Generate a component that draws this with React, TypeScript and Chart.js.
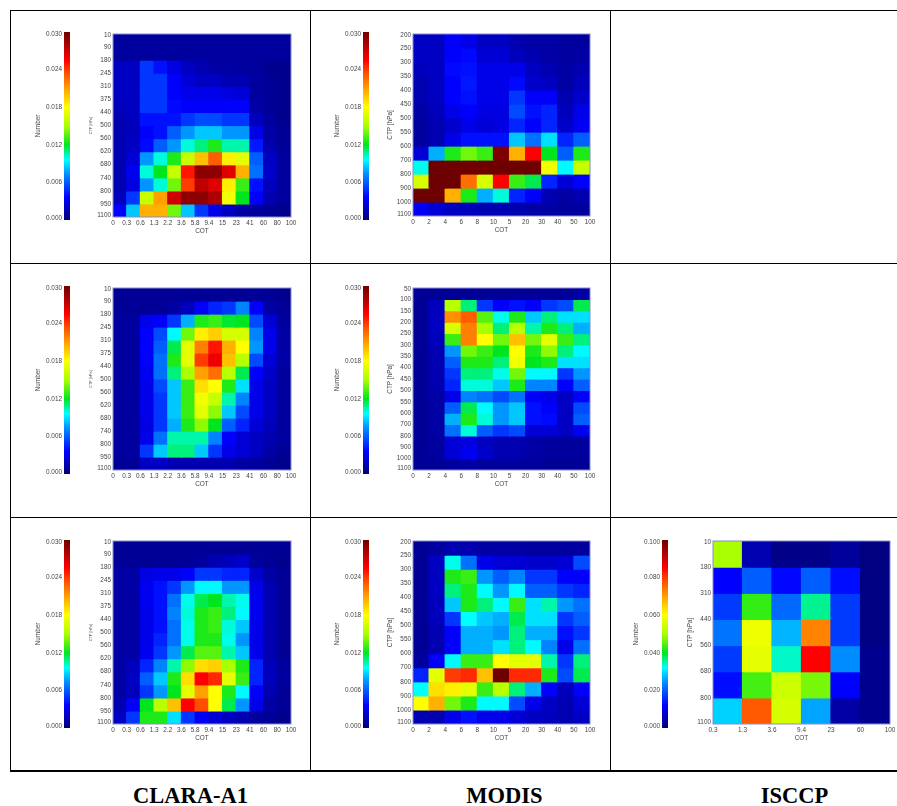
import React, { useEffect, useRef } from "react";
import { Chart, registerables } from "chart.js";

Chart.register(...registerables);

// ---------- tick labels ----------
const claraCot = ["0", "0.3", "0.6", "1.3", "2.2", "3.6", "5.8", "9.4", "15", "23", "41", "60", "80", "100"];
const claraCtp = ["10", "90", "180", "245", "310", "375", "440", "500", "560", "620", "680", "740", "800", "950", "1100"];
const modisCot = ["0", "2", "4", "6", "8", "10", "5", "20", "30", "40", "50", "100"];
const modisCtpShort = ["200", "250", "300", "350", "400", "450", "500", "550", "600", "700", "800", "900", "1000", "1100"];
const modisCtpLong = ["50", "100", "150", "200", "250", "300", "350", "400", "450", "500", "550", "600", "700", "800", "900", "1000", "1100"];
const isccpCot = ["0.3", "1.3", "3.6", "9.4", "23", "60", "100"];
const isccpCtp = ["10", "180", "310", "440", "560", "680", "800", "1100"];
const barTicksLow = [0, 0.006, 0.012, 0.018, 0.024, 0.03];
const barTicksHigh = [0, 0.02, 0.04, 0.06, 0.08, 0.1];
const columnNames = ["CLARA-A1", "MODIS", "ISCCP"];

// ---------- cell values (in units of 0.001) ----------
const claraTop = [
  [1, 1, 1, 1, 1, 1, 1, 1, 1, 1, 1, 1, 1],
  [1, 1, 1, 1, 1, 1, 1, 1, 1, 1, 1, 1, 1],
  [2, 2, 5, 4, 2.8, 2, 1.5, 1.2, 1.2, 1, 1, 0.6, 0.6],
  [2, 2, 5, 5, 3.5, 2.5, 2, 2, 1.5, 1.5, 1, 0.8, 0.6],
  [2, 2, 5, 5, 3.6, 3, 3, 3, 2.8, 2.5, 1, 0.8, 0.6],
  [1.8, 2, 5, 5, 3.8, 3.5, 3.5, 3.5, 3.5, 3.5, 1.2, 0.8, 0.6],
  [1.5, 1.8, 4, 4, 4, 5, 5.5, 5.5, 5, 5, 1.8, 1, 0.6],
  [1.5, 1.8, 3.5, 4, 6, 7.5, 8.5, 8.5, 7.5, 7.5, 3, 1.2, 0.8],
  [1.5, 2, 3.8, 6, 7.5, 10, 11, 12.5, 10.5, 10.5, 4.2, 1.5, 0.8],
  [1.5, 2.5, 7.5, 10, 12.5, 16, 20, 23, 18.5, 17, 6, 2, 1],
  [1.5, 3.2, 10, 12, 16, 25, 29, 29, 26.5, 20.5, 6.5, 2.2, 1],
  [1.5, 2.8, 7.5, 10, 14, 24, 27.5, 26.5, 18.5, 13, 4, 1.8, 1],
  [1.8, 5, 16, 21, 27, 29, 29, 28, 17.5, 12, 3.5, 1.5, 1],
  [3.6, 8.5, 20.5, 20.5, 14, 8.5, 5, 3, 2, 1.2, 1, 0.8, 0.6],
];
const modisTop = [
  [2, 2, 3.5, 3, 2, 2, 1.5, 1.2, 1.2, 1, 1],
  [2, 2, 3.6, 3.8, 2.5, 2.5, 1.8, 1.5, 1.2, 1, 1.2],
  [1.8, 2, 3.8, 4, 3, 3, 3, 2, 1.5, 1.2, 1.5],
  [1.5, 2, 3.6, 4.2, 3, 3, 3.8, 2.2, 2, 1.2, 1.8],
  [1.5, 2, 3.6, 4, 3, 3, 5, 3.5, 3.5, 1.5, 2.2],
  [1.2, 1.8, 3, 3.5, 2.8, 2.8, 5.5, 4, 4.5, 1.8, 3],
  [1, 1.5, 2.2, 3, 2.5, 2.8, 4.5, 3.5, 4.5, 2.2, 3.3],
  [1, 1.5, 3, 4, 4, 4, 8.5, 6.5, 9, 4.5, 6],
  [2.5, 8, 12.5, 14, 13, 29.5, 20.5, 25.5, 12, 6, 12.5],
  [9.8, 30, 30, 30, 30, 30, 30, 30, 17.5, 9.5, 16],
  [16.5, 30, 30, 22.5, 16.5, 25.5, 13, 11.5, 4.5, 2.5, 3.5],
  [30, 30, 20.5, 12.5, 8, 10, 4.5, 3.5, 1.5, 1.2, 1.5],
  [3.2, 2.5, 2, 1.8, 1.5, 1.5, 1.5, 1.2, 1.2, 1, 1],
];
const claraMid = [
  [0.8, 0.8, 0.8, 0.8, 0.8, 0.8, 0.8, 0.8, 0.8, 0.8, 0.8, 0.8, 0.6],
  [0.8, 0.8, 0.8, 0.8, 1.2, 1.8, 3.5, 4.5, 5, 7, 3.5, 1.2, 0.8],
  [1, 1, 3, 3.5, 5, 8, 12.5, 13, 11.8, 12, 5.5, 2.5, 1],
  [1, 1, 3.5, 5.5, 9.5, 14, 18.5, 19.5, 16.5, 16.5, 7, 3, 1.2],
  [1, 1, 3.5, 6, 11.5, 17, 22, 25, 20.5, 18, 7.5, 3, 1.2],
  [1, 1, 3.5, 6.5, 12.5, 17, 24, 26, 20, 15.5, 5.5, 2.5, 1.2],
  [1, 1, 3.2, 6.5, 11, 15, 21, 22.5, 15.5, 11.5, 3.5, 2.2, 1],
  [1, 1, 3, 5.5, 8.5, 13, 19, 18, 12.5, 9, 3, 2, 1],
  [1, 1, 3, 5, 8.5, 13, 17.5, 16, 10.5, 7, 3, 2, 1],
  [1, 1, 3, 5, 8.5, 13, 17, 14.5, 8.5, 5.5, 3, 2, 1],
  [1, 1, 2.8, 5, 8, 12.5, 14.5, 12, 6, 4.5, 2.5, 1.8, 1],
  [1, 1, 3, 6.5, 10.5, 10.5, 10.5, 7, 3.5, 2.5, 2, 1.5, 1],
  [1, 1, 5, 8.5, 11, 11, 8.5, 5, 3, 2.5, 2, 1.2, 0.8],
  [0.8, 0.8, 2, 2, 1.5, 1.5, 1.5, 1.5, 1.5, 1.2, 1, 0.8, 0.6],
];
const modisMid = [
  [0.8, 0.8, 0.8, 0.8, 0.8, 0.8, 0.8, 0.8, 0.8, 0.8, 1.2],
  [0.8, 1.8, 15.5, 11, 5, 3.5, 4, 3.5, 5, 5.5, 11.5],
  [0.8, 2, 21.5, 23, 13.5, 9.8, 12.5, 8.5, 11, 9, 9],
  [0.8, 2, 16.5, 22, 15, 11, 15.5, 10.5, 12.5, 11, 8],
  [0.8, 1.8, 13, 22, 18, 14, 20, 14, 17, 13, 11],
  [0.8, 1.5, 7.5, 14, 13, 12, 18, 12.5, 14.5, 11, 9.5],
  [0.8, 1.5, 6, 12.5, 12.5, 11, 17.5, 12, 12.5, 9, 9],
  [0.8, 1.5, 5, 11, 11, 9.8, 14, 9.5, 9.5, 5, 7.5],
  [0.8, 1.5, 4.5, 10, 10, 8.5, 12.5, 7, 7, 3.5, 6],
  [0.8, 1.2, 3, 7, 6.5, 5.5, 6.5, 3.5, 3, 2, 3.5],
  [0.8, 1.2, 6, 11.5, 9.5, 7.5, 8.5, 4, 3.5, 2, 5.5],
  [0.8, 1.2, 8, 12.5, 10, 7.5, 8.5, 4, 3.8, 2, 6],
  [0.8, 1.2, 6.5, 10, 6, 5, 5.5, 2.5, 2.5, 2, 3.2],
  [0.8, 1, 2.5, 2.8, 2, 1.5, 1.5, 1.2, 1, 1, 1],
  [0.8, 1, 2.5, 3.2, 2.2, 1.5, 1.5, 1.2, 1, 1, 1],
  [0.8, 0.8, 1, 1.2, 1, 1, 1, 1, 0.8, 0.8, 0.8],
];
const claraLow = [
  [0.8, 0.8, 0.8, 0.8, 0.8, 0.8, 0.8, 0.8, 0.8, 0.8, 0.8, 0.8, 0.8],
  [0.8, 0.8, 0.8, 0.8, 0.8, 0.8, 1, 1.5, 1.8, 2.2, 1, 0.8, 0.6],
  [1.2, 1.2, 2.8, 3, 3, 3.5, 5, 5, 4.5, 4.5, 2.2, 1.2, 0.8],
  [1.2, 1.2, 3.2, 4, 5, 7.5, 9.5, 9.5, 7.5, 7.5, 3, 1.5, 0.8],
  [1.2, 1.2, 3.2, 4, 6.5, 9.8, 11.5, 12, 10.5, 9.8, 3.2, 1.5, 0.8],
  [1.2, 1.2, 3, 4, 7, 10, 12.5, 13, 11, 9.5, 3.2, 1.5, 0.8],
  [1.2, 1.2, 3, 4, 6.5, 9.8, 12.5, 13, 10, 8.5, 3, 1.5, 0.8],
  [1.2, 1.2, 3, 4.5, 6.5, 9.8, 12.5, 12.5, 9.8, 7.5, 3, 1.5, 0.8],
  [1.2, 1.2, 3.2, 5, 7.5, 11.5, 13.5, 13.5, 10.5, 8.5, 3, 1.5, 0.8],
  [1.2, 1.8, 4.5, 7, 10.5, 14.5, 19, 19.5, 15, 12.5, 4.5, 1.8, 1],
  [1.2, 2, 6, 8.5, 12.5, 19, 25.5, 24.5, 17, 13, 4.5, 1.8, 1],
  [1.2, 1.8, 5, 7.5, 12, 17, 21, 18, 12.5, 9.5, 3.5, 1.5, 0.8],
  [1.5, 3.5, 12, 15.5, 20, 25.5, 23.5, 18, 11.5, 7.5, 3, 1.2, 0.8],
  [2, 5, 12.5, 12.5, 9, 5, 3.2, 2.5, 2, 1.5, 1, 0.8, 0.6],
];
const modisLow = [
  [0.8, 1, 1.5, 1.5, 1.2, 1.2, 1.2, 1, 1, 1, 1],
  [0.8, 2, 9.8, 6.5, 3, 2.5, 2.5, 2.2, 2.2, 2.5, 5.5],
  [0.8, 2, 12.5, 13, 7.5, 6, 7, 5, 5, 3.5, 3.5],
  [0.8, 2, 11, 12.5, 9.5, 7.5, 9.5, 6, 6, 5, 4.5],
  [0.8, 1.8, 8.5, 12.5, 11, 9.5, 13, 9, 10.5, 7.5, 6.5],
  [0.8, 1.8, 5, 9.6, 8.5, 8, 11.5, 9, 9, 5, 6],
  [0.8, 1.5, 3.5, 8, 8, 7.5, 11, 8, 8, 4, 5],
  [0.8, 1.5, 3.5, 8, 8, 9, 11, 9.5, 7, 3, 6.5],
  [1, 3.5, 9.5, 13, 13, 18, 17, 17, 10.5, 5, 11],
  [4.5, 17, 24, 24.5, 20, 30, 24.5, 24.5, 12.5, 5.5, 11.5],
  [9.6, 19, 18.5, 17, 13, 15.5, 11, 8, 3.5, 1.8, 3.5],
  [18, 20.5, 14, 12.5, 9.5, 9.5, 5.5, 3, 2, 1.5, 2.5],
  [1.5, 1.5, 3, 4, 3, 3, 2.5, 2, 1.8, 1.5, 2],
];
const isccpLow = [
  [50, 5, 1.5, 1.5, 3, 0.8],
  [12, 20, 12.5, 20, 13, 1],
  [17, 43, 21, 36, 17, 1],
  [22, 58, 27, 73, 17, 1],
  [17, 57, 34, 85, 24, 2],
  [13, 44, 54, 47, 12, 2],
  [29, 77, 55, 26, 4, 2],
];

// ---------- colour map ----------
const colorStops: [number, number[]][] = [
  [0, [0, 0, 120]],
  [0.12, [0, 0, 255]],
  [0.18, [0, 70, 255]],
  [0.25, [0, 150, 255]],
  [0.32, [0, 255, 255]],
  [0.4, [0, 230, 30]],
  [0.5, [170, 255, 0]],
  [0.6, [255, 255, 0]],
  [0.7, [255, 160, 0]],
  [0.8, [255, 60, 0]],
  [0.85, [255, 0, 0]],
  [1, [110, 0, 0]],
];
const rgb = (c: number[]) => `rgb(${c.map((v) => Math.round(v)).join(",")})`;
function colorAt(f: number) {
  const t = Math.max(0, Math.min(1, f));
  for (let i = 1; i < colorStops.length; i++) {
    const [p0, c0] = colorStops[i - 1];
    const [p1, c1] = colorStops[i];
    if (t <= p1) {
      const k = (t - p0) / (p1 - p0);
      return rgb(c0.map((v, j) => v + (c1[j] - v) * k));
    }
  }
  return rgb(colorStops[colorStops.length - 1][1]);
}

const SANS = "'Liberation Sans', Arial, sans-serif";
const INK = "#444";
const FONT = 6.4;
const BLUR = "blur(0.7px)";

const frame = {
  id: "frame",
  afterDatasetsDraw(chart: any) {
    const { left, top, width, height } = chart.chartArea;
    const c = chart.ctx;
    c.save();
    c.strokeStyle = "#8a8ad0";
    c.lineWidth = 1;
    c.strokeRect(left, top, width, height);
    c.restore();
  },
};

function Heatmap({ values, xLabels, yLabels, top, bottom, left, right, max, titleFont, yBox }: any) {
  const ref = useRef<HTMLCanvasElement>(null);
  const pt = 8;
  const pr = 12;
  const xBox = 18;
  const w = yBox + (right - left) + pr;
  const h = pt + (bottom - top) + xBox;
  useEffect(() => {
    const rows = values.length;
    const cols = values[0].length;
    const inset = (1.5 * rows) / (bottom - top); // end labels sit just inside the plot
    const datasets = values.map((row: number[], r: number) => ({
      data: row.map((_: number, c: number) => ({ x: c + 0.5, y: [r, r + 1] })),
      backgroundColor: row.map((v: number) => colorAt(v / max)),
      borderWidth: 0,
      grouped: false,
      barPercentage: 1,
      categoryPercentage: 1,
      inflateAmount: 0.6,
    }));
    const chart = new Chart(ref.current as any, {
      type: "bar",
      data: { datasets },
      plugins: [frame],
      options: {
        animation: false,
        responsive: false,
        events: [],
        layout: { padding: { top: pt, right: pr, left: 0, bottom: 0 } },
        plugins: { legend: { display: false }, tooltip: { enabled: false } },
        scales: {
          x: {
            type: "linear",
            offset: false,
            min: 0,
            max: cols,
            grid: { display: false, drawTicks: false },
            border: { display: false },
            ticks: {
              stepSize: 1,
              autoSkip: false,
              maxRotation: 0,
              padding: 2.5,
              color: INK,
              font: { size: FONT, family: SANS },
              callback: (v: any) => xLabels[v],
            },
            title: { display: true, text: "COT", color: INK, padding: 0, font: { size: FONT, family: SANS } },
            afterFit: (s: any) => { s.height = xBox; },
          },
          y: {
            type: "linear",
            reverse: true,
            min: 0,
            max: rows,
            grid: { display: false, drawTicks: false },
            border: { display: false },
            afterBuildTicks: (s: any) => {
              s.ticks = yLabels.map((_: string, i: number) => ({
                value: i === 0 ? inset : i === rows ? rows - inset : i,
              }));
            },
            ticks: {
              autoSkip: false,
              padding: 2,
              color: INK,
              font: { size: FONT, family: SANS },
              callback: (_v: any, i: number) => yLabels[i],
            },
            title: { display: true, text: "CTP [hPa]", color: INK, padding: 0, font: { size: titleFont, family: SANS } },
            afterFit: (s: any) => { s.width = yBox; },
          },
        },
      },
    } as any);
    return () => chart.destroy();
  }, []);
  return (
    <canvas
      ref={ref}
      width={w}
      height={h}
      style={{ position: "absolute", left: left - yBox, top: top - pt, width: w, height: h, filter: BLUR }}
    />
  );
}

function ColorBar({ left, top, bottom, max, ticks }: any) {
  const ref = useRef<HTMLCanvasElement>(null);
  const pad = 6;
  const box = 30;
  const barW = 6;
  const w = box + barW + 2;
  const h = bottom - top + 2 * pad;
  useEffect(() => {
    const inset = (2 * max) / (bottom - top); // end labels sit just inside the bar
    const chart = new Chart(ref.current as any, {
      type: "bar",
      data: {
        labels: ["Number"],
        datasets: [
          {
            data: [[0, max]],
            borderWidth: 0,
            barPercentage: 1,
            categoryPercentage: 1,
            backgroundColor: (ctx: any) => {
              const a = ctx.chart.chartArea;
              if (!a) return "#00f";
              const g = ctx.chart.ctx.createLinearGradient(0, a.bottom, 0, a.top);
              colorStops.forEach(([p, c]) => g.addColorStop(p, rgb(c)));
              return g;
            },
          },
        ],
      },
      options: {
        animation: false,
        responsive: false,
        events: [],
        layout: { padding: { top: pad, bottom: pad, right: 2, left: 0 } },
        plugins: { legend: { display: false }, tooltip: { enabled: false } },
        scales: {
          x: { display: false },
          y: {
            type: "linear",
            min: 0,
            max,
            grid: { display: false, drawTicks: false },
            border: { display: false },
            afterBuildTicks: (s: any) => {
              s.ticks = ticks.map((t: number, i: number) => ({
                value: i === 0 ? inset : i === ticks.length - 1 ? max - inset : t,
              }));
            },
            ticks: {
              autoSkip: false,
              padding: 2,
              color: INK,
              font: { size: FONT, family: SANS },
              callback: (_v: any, i: number) => ticks[i].toFixed(3),
            },
            title: { display: true, text: "Number", color: INK, padding: 0, font: { size: FONT, family: SANS } },
            afterFit: (s: any) => { s.width = box; },
          },
        },
      },
    } as any);
    return () => chart.destroy();
  }, []);
  return (
    <canvas
      ref={ref}
      width={w}
      height={h}
      style={{ position: "absolute", left: left - box, top: top - pad, width: w, height: h, filter: BLUR }}
    />
  );
}

const line = (l: number, t: number, w: number, h: number, key: string) => (
  <div key={key} style={{ position: "absolute", left: l, top: t, width: w, height: h, background: "#000" }} />
);

export default function App() {
  const Hclara = { xLabels: claraCot, yLabels: claraCtp, left: 113, right: 291, titleFont: 3.8, yBox: 24, max: 30 };
  const Hmodis = { xLabels: modisCot, left: 413, right: 590, titleFont: FONT, yBox: 27, max: 30 };
  return (
    <div style={{ position: "absolute", left: 0, top: 0, width: 897, height: 806, overflow: "hidden", background: "#fff" }}>
      <ColorBar left={64} top={32} bottom={220} max={0.03} ticks={barTicksLow} />
      <Heatmap {...Hclara} values={claraTop} top={34} bottom={217} />
      <ColorBar left={363} top={32} bottom={220} max={0.03} ticks={barTicksLow} />
      <Heatmap {...Hmodis} values={modisTop} yLabels={modisCtpShort} top={34} bottom={216} />

      <ColorBar left={64} top={286} bottom={474} max={0.03} ticks={barTicksLow} />
      <Heatmap {...Hclara} values={claraMid} top={288} bottom={470} />
      <ColorBar left={363} top={286} bottom={474} max={0.03} ticks={barTicksLow} />
      <Heatmap {...Hmodis} values={modisMid} yLabels={modisCtpLong} top={288} bottom={470} />

      <ColorBar left={64} top={540} bottom={728} max={0.03} ticks={barTicksLow} />
      <Heatmap {...Hclara} values={claraLow} top={541} bottom={724} />
      <ColorBar left={363} top={540} bottom={728} max={0.03} ticks={barTicksLow} />
      <Heatmap {...Hmodis} values={modisLow} yLabels={modisCtpShort} top={541} bottom={724} />
      <ColorBar left={662} top={540} bottom={728} max={0.1} ticks={barTicksHigh} />
      <Heatmap
        values={isccpLow}
        xLabels={isccpCot}
        yLabels={isccpCtp}
        left={713}
        right={890}
        top={541}
        bottom={724}
        titleFont={FONT}
        yBox={27}
        max={100}
      />

      {line(10, 10, 887, 1, "h0")}
      {line(10, 263, 887, 1, "h1")}
      {line(10, 517, 887, 1, "h2")}
      {line(10, 770, 887, 2, "h3")}
      {line(10, 10, 1, 762, "v0")}
      {line(310, 10, 1, 762, "v1")}
      {line(610, 10, 1, 762, "v2")}

      {columnNames.map((name, i) => (
        <div
          key={name}
          style={{
            position: "absolute",
            left: [190.5, 504.5, 794.5][i] - 100,
            width: 200,
            top: 783,
            textAlign: "center",
            font: "bold 22.5px/26px 'Liberation Serif', serif",
            color: "#000",
          }}
        >
          {name}
        </div>
      ))}
    </div>
  );
}
